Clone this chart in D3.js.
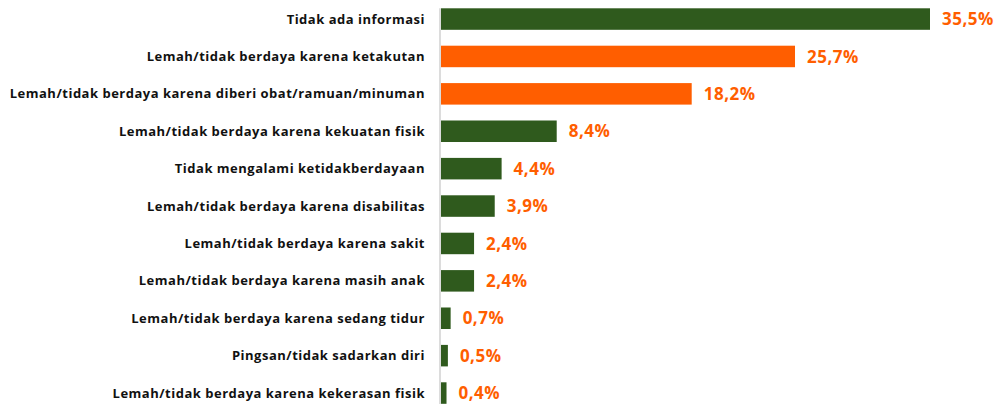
<!DOCTYPE html>
<html>
<head>
<meta charset="utf-8">
<script src="https://cdn.jsdelivr.net/npm/d3@7"></script>
<style>
  body { margin: 0; background: #fff; }
  svg { display: block; }
</style>
</head>
<body>
<div id="chart"></div>
<script>
var categories = [
  "Tidak ada informasi",
  "Lemah/tidak berdaya karena ketakutan",
  "Lemah/tidak berdaya karena diberi obat/ramuan/minuman",
  "Lemah/tidak berdaya karena kekuatan fisik",
  "Tidak mengalami ketidakberdayaan",
  "Lemah/tidak berdaya karena disabilitas",
  "Lemah/tidak berdaya karena sakit",
  "Lemah/tidak berdaya karena masih anak",
  "Lemah/tidak berdaya karena sedang tidur",
  "Pingsan/tidak sadarkan diri",
  "Lemah/tidak berdaya karena kekerasan fisik"
];
var values = [35.5, 25.7, 18.2, 8.4, 4.4, 3.9, 2.4, 2.4, 0.7, 0.5, 0.4];
var highlighted = [
  "Lemah/tidak berdaya karena ketakutan",
  "Lemah/tidak berdaya karena diberi obat/ramuan/minuman"
];

var svgWidth = 1000;
var svgHeight = 404;
var green = "#2f5a1d";
var orange = "#ff5e00";

var data = categories.map(function(c, i) { return { cat: c, val: values[i] }; });

var svg = d3.select("#chart")
  .append("svg")
  .attr("width", svgWidth)
  .attr("height", svgHeight);

var x = d3.scaleLinear()
  .domain([0, 35.5])
  .range([441, 930]);

var y = d3.scaleBand()
  .domain(categories)
  .range([0.35, 411.75])
  .paddingInner(0.425)
  .paddingOuter(0.2125);

// light baseline
svg.append("line")
  .attr("x1", 440).attr("x2", 440)
  .attr("y1", y(categories[0])).attr("y2", svgHeight)
  .attr("stroke", "#dcdcdc")
  .attr("stroke-width", 2);

svg.selectAll(".bar")
  .data(data)
  .enter()
  .append("rect")
  .attr("class", "bar")
  .attr("x", x(0))
  .attr("y", function(d) { return y(d.cat); })
  .attr("width", function(d) { return x(d.val) - x(0); })
  .attr("height", y.bandwidth())
  .attr("fill", function(d) { return highlighted.indexOf(d.cat) >= 0 ? orange : green; });

svg.selectAll(".cat")
  .data(data)
  .enter()
  .append("text")
  .attr("class", "cat")
  .attr("x", 425)
  .attr("y", function(d) { return y(d.cat) + y.bandwidth() / 2; })
  .attr("dy", "0.35em")
  .attr("text-anchor", "end")
  .style("font-family", "'Open Sans', sans-serif")
  .style("font-weight", "700")
  .style("font-size", "13px")
  .style("letter-spacing", "0.5px")
  .style("fill", "#111")
  .text(function(d) { return d.cat; });

svg.selectAll(".val")
  .data(data)
  .enter()
  .append("text")
  .attr("class", "val")
  .attr("x", function(d) { return x(d.val) + 12; })
  .attr("y", function(d) { return y(d.cat) + y.bandwidth() / 2; })
  .attr("dy", "0.36em")
  .style("font-family", "'Open Sans', sans-serif")
  .style("font-weight", "700")
  .style("font-size", "17px")
  .style("letter-spacing", "0.5px")
  .style("fill", orange)
  .text(function(d) { return d3.format(".1f")(d.val).replace(".", ",") + "%"; });
</script>
</body>
</html>
